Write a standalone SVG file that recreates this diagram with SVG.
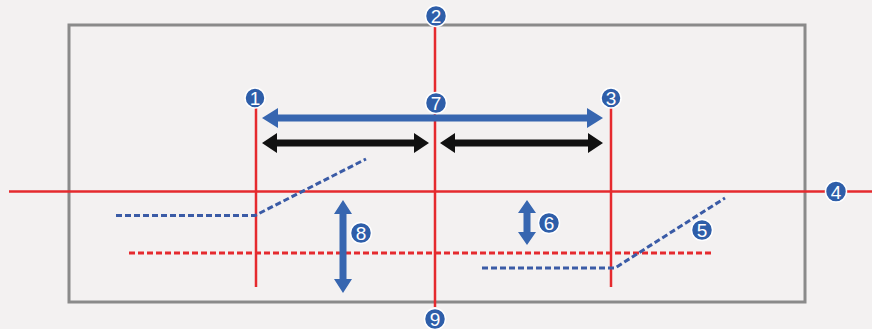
<svg xmlns="http://www.w3.org/2000/svg" width="872" height="329" viewBox="0 0 872 329">
<style>
.red{stroke:#e52a2e;stroke-width:2.5;fill:none}
.reddash{stroke:#e52a2e;stroke-width:3;fill:none;stroke-dasharray:6 3}
.bluedash{stroke:#3a5ba6;stroke-width:3;fill:none;stroke-dasharray:6 3}
.badge circle{fill:#2e5ea9;stroke:#ffffff;stroke-width:1.5}
.badge text{fill:#ffffff;font-family:"Liberation Sans",Arial,sans-serif;font-size:19px;text-anchor:middle;dominant-baseline:central}
</style>
<rect width="872" height="329" fill="#f3f1f1"/>
<rect x="69" y="25" width="736" height="277" fill="none" stroke="#8a8a8a" stroke-width="3"/>
<g id="connectors">
<line class="red" x1="435" y1="27" x2="435" y2="307"/>
<line class="red" x1="9" y1="191.5" x2="872" y2="191.5"/>
<line class="red" x1="256" y1="108" x2="256" y2="287"/>
<line class="red" x1="611" y1="108" x2="611" y2="287"/>
<line class="reddash" x1="129" y1="253" x2="712" y2="253"/>
<polyline class="bluedash" points="116,215.5 255,215.5 366,159"/>
<polyline class="bluedash" points="482,268 615,268 725,198"/>
<path d="M262,118 L278,108 L278,114.5 L587,114.5 L587,108 L603,118 L587,128 L587,121.5 L278,121.5 L278,128 Z" fill="#3766b0"/>
<path d="M262,143 L277,133 L277,139.5 L414,139.5 L414,133 L429,143 L414,153 L414,146.5 L277,146.5 L277,153 Z" fill="#111111"/>
<path d="M440,143 L455,133 L455,139.5 L588,139.5 L588,133 L603,143 L588,153 L588,146.5 L455,146.5 L455,153 Z" fill="#111111"/>
<path d="M343,200 L352,214 L346.5,214 L346.5,279 L352,279 L343,293 L334,279 L339.5,279 L339.5,214 L334,214 Z" fill="#3766b0"/>
<path d="M527,200 L536,213 L530.5,213 L530.5,232 L536,232 L527,245 L518,232 L523.5,232 L523.5,213 L518,213 Z" fill="#3766b0"/>
</g>
<g id="n1" class="badge"><circle cx="255" cy="98" r="10"/><text x="255" y="98.5">1</text></g>
<g id="n2" class="badge"><circle cx="436" cy="16" r="10.5"/><text x="436" y="16.5">2</text></g>
<g id="n3" class="badge"><circle cx="611" cy="98" r="10"/><text x="611" y="98.5">3</text></g>
<g id="n4" class="badge"><circle cx="836" cy="191.5" r="10.5"/><text x="836" y="192">4</text></g>
<g id="n5" class="badge"><circle cx="702" cy="230" r="10.5"/><text x="702" y="230.5">5</text></g>
<g id="n6" class="badge"><circle cx="549" cy="223" r="10.5"/><text x="549" y="223.5">6</text></g>
<g id="n7" class="badge"><circle cx="436" cy="103" r="10.5"/><text x="436" y="103.5">7</text></g>
<g id="n8" class="badge"><circle cx="361" cy="233" r="10.5"/><text x="361" y="233.5">8</text></g>
<g id="n9" class="badge"><circle cx="435" cy="319" r="10.5"/><text x="435" y="319.5">9</text></g>
</svg>
